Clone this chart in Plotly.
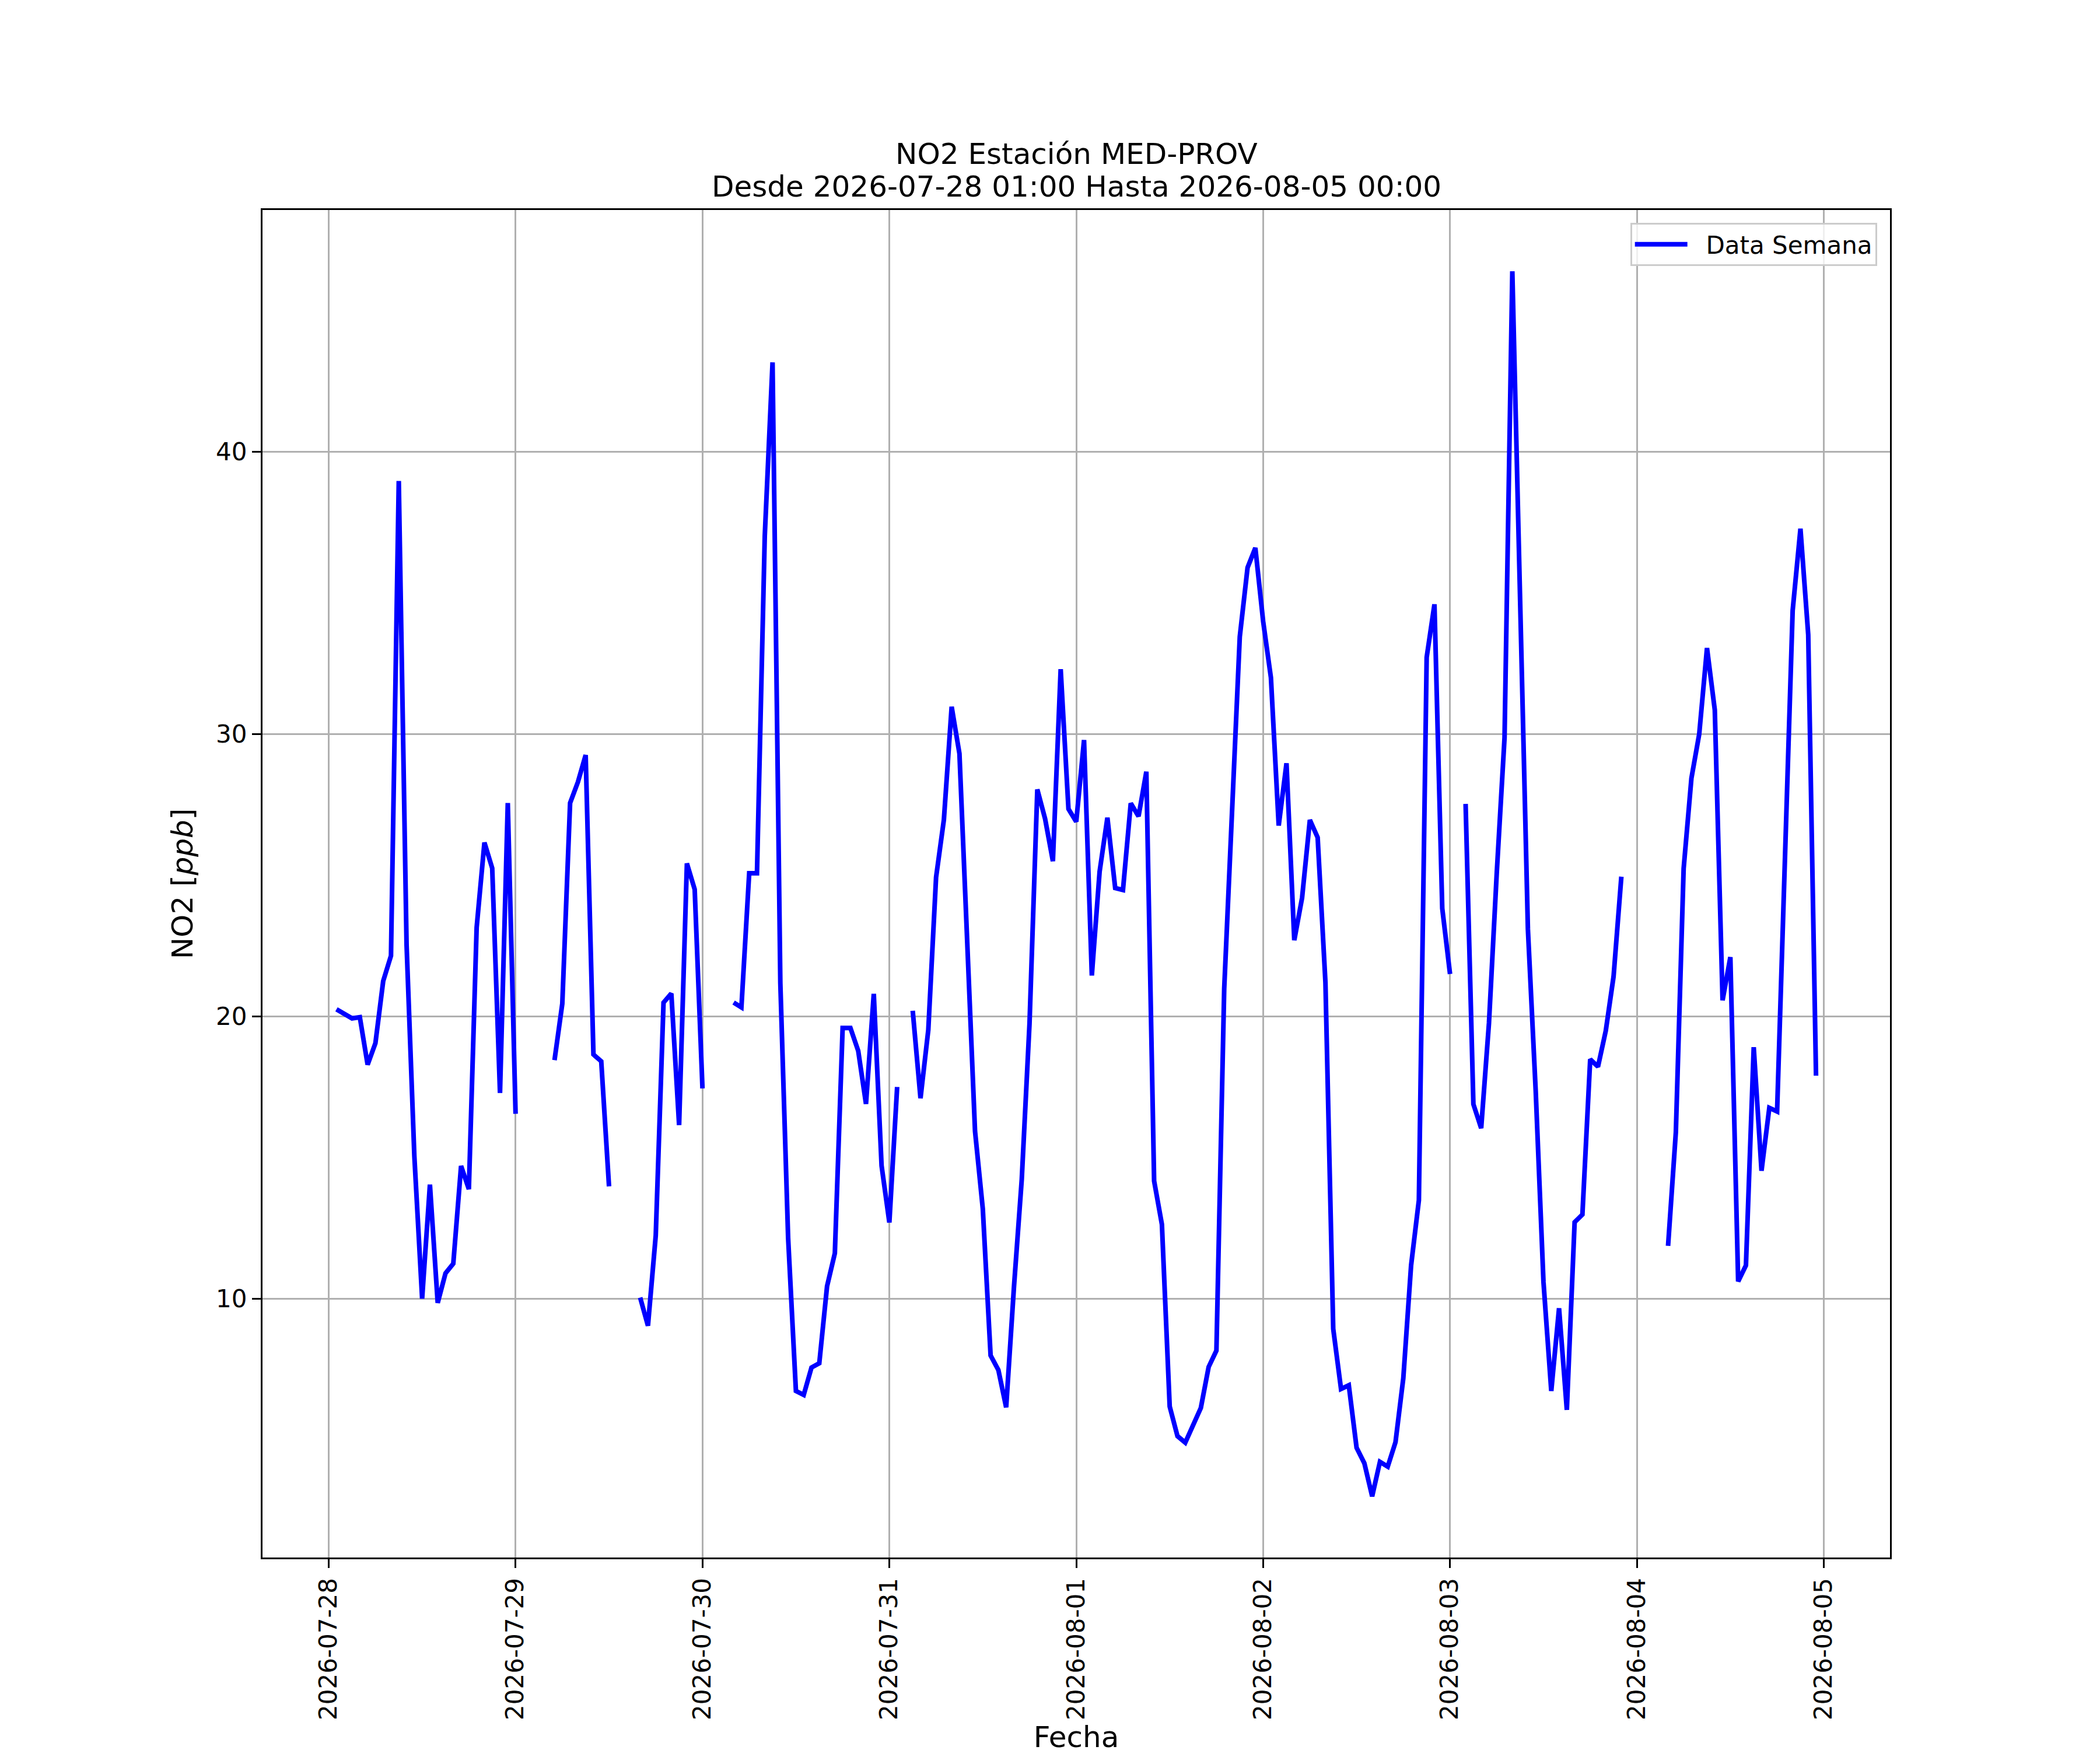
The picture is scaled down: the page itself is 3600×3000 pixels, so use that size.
import pandas as pd
import plotly.graph_objects as go

# Hourly NO2 readings (ppb), None = missing hour
# 2026-07-28, hours 01..23
d0728 = [20.25, 20.1, 19.93, 19.97, 18.29, 19.05, 21.25, 22.15, 38.97, 22.55,
         15.05, 10.0, 14.04, 9.85, 10.9, 11.24, 14.7, 13.88, 23.15, 26.16,
         25.25, 17.29, 27.56]
# 2026-07-29 .. 2026-08-04, hours 00..23
d0729 = [16.55, None, None, None, None, 18.45, 20.45, 27.56, 28.3, 29.26,
         18.65, 18.41, 13.98, None, None, None, 10.04, 9.04, 12.24, 20.49,
         20.81, 16.15, 25.42, 24.5]
d0730 = [17.45, None, None, None, 20.49, 20.32, 25.07, 25.07, 37.02, 43.17,
         21.17, 12.15, 6.73, 6.59, 7.56, 7.71, 10.44, 11.61, 19.59, 19.59,
         18.78, 16.9, 20.8, 14.71]
d0731 = [12.7, 17.5, None, 20.2, 17.1, 19.52, 24.93, 26.96, 30.97, 29.31,
         22.4, 15.94, 13.18, 7.99, 7.47, 6.15, 10.41, 14.22, 19.75, 28.04,
         27.0, 25.5, 32.3, 27.35]
d0801 = [26.9, 29.79, 21.45, 25.13, 27.04, 24.55, 24.48, 27.55, 27.09, 28.67,
         14.17, 12.63, 6.18, 5.13, 4.9, 5.48, 6.13, 7.58, 8.16, 20.98,
         26.8, 33.45, 35.9, 36.6]
d0802 = [34.0, 32.0, 26.76, 28.97, 22.7, 24.2, 26.96, 26.34, 21.2, 8.93,
         6.8, 6.93, 4.72, 4.17, 3.0, 4.22, 4.05, 4.92, 7.18, 11.18,
         13.49, 32.72, 34.6, 23.83]
d0803 = [21.5, None, 27.53, 16.89, 16.04, 19.76, 25.08, 29.87, 46.4, 33.86,
         23.09, 17.37, 10.59, 6.73, 9.66, 6.06, 12.71, 12.98, 18.48, 18.22,
         19.49, 21.41, 24.95, None]
d0804 = [None, None, None, None, 11.87, 15.9, 25.24, 28.44, 30.0, 33.05,
         30.86, 20.57, 22.1, 10.61, 11.18, 18.91, 14.53, 16.76, 16.63, 26.0,
         34.38, 37.28, 33.52, 17.9]
# 2026-08-05 00:00
d0805 = [None]

no2 = d0728 + d0729 + d0730 + d0731 + d0801 + d0802 + d0803 + d0804 + d0805
fechas = pd.date_range("2026-07-28 01:00", "2026-08-05 00:00", freq="h")

y_ticks = [10, 20, 30, 40]
title_lines = ["NO2 Estación MED-PROV",
               "Desde 2026-07-28 01:00 Hasta 2026-08-05 00:00"]

df = pd.DataFrame({"Fecha": fechas, "NO2": no2})

# matplotlib-like 5% margins around the data
valid = df.dropna()
span = valid["Fecha"].max() - valid["Fecha"].min()
x_range = [valid["Fecha"].min() - 0.05 * span, valid["Fecha"].max() + 0.05 * span]
vmin, vmax = valid["NO2"].min(), valid["NO2"].max()
y_range = [vmin - 0.05 * (vmax - vmin), vmax + 0.05 * (vmax - vmin)]

font = "DejaVu Sans"

fig = go.Figure()
fig.add_trace(go.Scatter(
    x=df["Fecha"], y=df["NO2"],
    mode="lines", name="\u00a0\u00a0Data Semana",
    line=dict(color="#0000ff", width=8),
    connectgaps=False,
))

axis_common = dict(
    showline=True, linecolor="black", linewidth=3.3, mirror=True,
    ticks="outside", ticklen=15, tickwidth=3.3, tickcolor="black",
    showgrid=True, gridcolor="#b0b0b0", gridwidth=3.3,
    zeroline=False, automargin=False,
    tickfont=dict(family=font, size=42, color="black"),
)

fig.update_xaxes(
    **axis_common,
    range=x_range,
    tickformat="%Y-%m-%d", dtick=86400000, tick0="2026-07-28",
    tickangle=-90,
    title=dict(text="Fecha", font=dict(family=font, size=50, color="black"), standoff=2),
)
fig.update_yaxes(
    **axis_common,
    range=y_range,
    tickvals=y_ticks,
    title=dict(text="NO2 [<i>ppb</i>]", font=dict(family=font, size=50, color="black"), standoff=24),
)

# two-line title above the axes
for line, shift in zip(title_lines, [96, 40]):
    fig.add_annotation(
        text=line, xref="paper", yref="paper", x=0.5, y=1.0,
        xanchor="center", yanchor="middle", yshift=shift,
        showarrow=False, font=dict(family=font, size=50, color="black"),
    )

# page body has an 8px margin, so the margins are offset by it
fig.update_layout(
    width=3600, height=3000,
    margin=dict(l=442, r=368, t=352, b=338),
    paper_bgcolor="white", plot_bgcolor="white",
    font=dict(family=font, size=42, color="black"),
    showlegend=True,
    legend=dict(
        x=0.992, y=0.9905, xanchor="right", yanchor="top",
        bgcolor="rgba(255,255,255,0.8)", bordercolor="#cccccc", borderwidth=3,
        font=dict(family=font, size=42, color="black"),
        itemwidth=90,
    ),
)

fig.write_html("out.html")
